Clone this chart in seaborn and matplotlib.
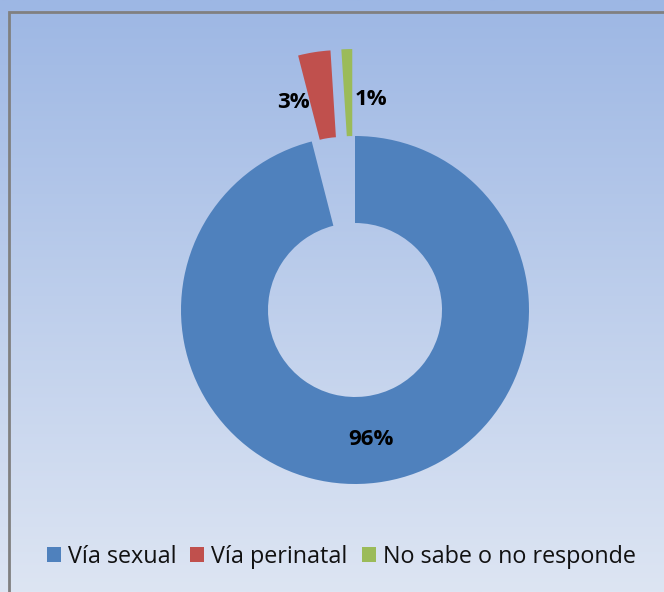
import numpy as np
import matplotlib
matplotlib.use("Agg")
import matplotlib.pyplot as plt
import seaborn as sns
from matplotlib.patches import Rectangle

# data
categories = ["Vía sexual", "Vía perinatal", "No sabe o no responde"]
values = [96, 3, 1]
pct_labels = ["96%", "3%", "1%"]
colors = ["#4F81BD", "#C0504D", "#9BBB59"]
explode = [0, 0.5, 0.5]

sns.set_style("white")
plt.rcParams['font.family'] = ['Open Sans', 'DejaVu Sans']

W, H = 664, 592
fig = plt.figure(figsize=(W / 100, H / 100), dpi=100)

# gradient background with grey frame
bg = fig.add_axes([0, 0, 1, 1], zorder=0)
grad = np.linspace(0, 1, 256).reshape(-1, 1)
top = np.array([157, 183, 228]) / 255
bot = np.array([221, 229, 243]) / 255
img = top + (bot - top) * grad[..., None]
bg.imshow(img, aspect="auto", extent=[0, 1, 0, 1], origin="upper")
bg.add_patch(Rectangle((9 / W, -0.1), 1.2, 1 - 12 / H + 0.1, fill=False,
                       edgecolor="#808080", linewidth=2, transform=bg.transAxes))
bg.set_xlim(0, 1)
bg.set_ylim(0, 1)
bg.axis("off")

# donut axes: centre (355, 310) px, radius 174 px
cx, cy, R = 355, 310, 174
half = 270
ax = fig.add_axes([(cx - half) / W, (H - cy - half) / H, 2 * half / W, 2 * half / H], zorder=1)
ax.set_facecolor("none")
wedges, texts, autotexts = ax.pie(
    values, colors=colors, explode=explode, startangle=90, counterclock=False,
    radius=1, autopct="%1.0f%%", pctdistance=0.75,
    wedgeprops=dict(width=0.5, edgecolor="none"),
    textprops=dict(fontsize=16, fontweight="bold", color="black"))
ax.set_xlim(-half / R, half / R)
ax.set_ylim(-half / R, half / R)
ax.set_aspect("equal")
ax.axis("off")

# move the small slice labels beside their exploded wedges
shifts = [0, -0.16, 0.13]
for w, t, s, lab in zip(wedges, autotexts, shifts, pct_labels):
    t.set_text(lab)
    if s != 0:
        ang = np.deg2rad((w.theta1 + w.theta2) / 2)
        x = np.cos(ang) * 1.25 + s
        y = np.sin(ang) * 1.21
        t.set_position((x, y))

# legend
fig.legend(wedges, categories, loc="center", bbox_to_anchor=(341 / W, 1 - 557 / H),
           ncol=3, frameon=False, fontsize=16.8, handlelength=0.6, handleheight=0.6,
           handletextpad=0.3, columnspacing=0.6, labelcolor="#111111")

fig.savefig("out.png", dpi=100)
